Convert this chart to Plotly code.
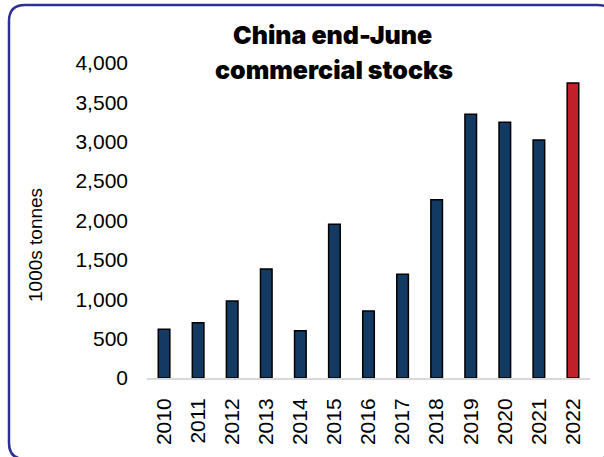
import plotly.graph_objects as go

years = ["2010", "2011", "2012", "2013", "2014", "2015", "2016", "2017",
         "2018", "2019", "2020", "2021", "2022"]
stocks = [618, 702, 978, 1384, 601, 1951, 851, 1317, 2264, 3348, 3247, 3022, 3746]
y_ticks = [0, 500, 1000, 1500, 2000, 2500, 3000, 3500, 4000]
y_tick_labels = ["0", "500", "1,000", "1,500", "2,000", "2,500", "3,000", "3,500", "4,000"]
title_lines = ["China end-June", "commercial stocks"]
y_title = "1000s tonnes"

NAVY = "#133A63"
RED = "#C1202B"
colors = [NAVY] * (len(years) - 1) + [RED]

W, H = 604, 457
ML, MR, MT, MB = 147, 14, 63, 79
PW, PH = W - ML - MR, H - MT - MB


def px(x):
    return (x - ML) / PW


def py(y):
    return (H - MB - y) / PH


fig = go.Figure(go.Bar(
    x=years, y=stocks,
    marker=dict(color=colors, line=dict(color="#000000", width=1.5)),
    width=0.34,
))

# rounded frame: right and bottom edges run off the canvas, only their corners peek in
L, T, R, B, r = 9, 5, 613, 459, 16
frame = (f"M {px(L)},{py(B - r)} "
         f"L {px(L)},{py(T + r)} "
         f"Q {px(L)},{py(T)} {px(L + r)},{py(T)} "
         f"L {px(R - r)},{py(T)} "
         f"Q {px(R - r / 2)},{py(T)} {px(R - r / 2 + 3)},{py(T + 3)}")
frame_bottom = (f"M {px(L)},{py(B - r)} "
                f"Q {px(L)},{py(B)} {px(L + r)},{py(B)} "
                f"L {px(R - r)},{py(B)} "
                f"Q {px(R - 8)},{py(B)} {px(R - 5)},{py(B - 4)}")

title_font = dict(family="Inter, Lato, Roboto, sans-serif", size=25,
                  weight=900, color="#000000")
frame_line = dict(color="#2E3192", width=2.5)

fig.update_layout(
    width=W, height=H,
    margin=dict(l=ML, r=MR, t=MT, b=MB),
    paper_bgcolor="white", plot_bgcolor="white",
    showlegend=False,
    font=dict(family="Liberation Sans, Arial, sans-serif", size=21, color="#000000"),
    xaxis=dict(
        type="category", tickangle=-90, showgrid=False, ticks="",
        showline=True, linecolor="#D9D9D9", linewidth=2,
        tickfont=dict(size=21), ticklabelstandoff=10,
    ),
    yaxis=dict(
        range=[0, 4000], tickvals=y_ticks, ticktext=y_tick_labels,
        showgrid=False, zeroline=False, ticks="", showline=False,
        tickfont=dict(size=21), ticklabelstandoff=18,
    ),
    shapes=[
        dict(type="path", xref="paper", yref="paper", path=frame,
             line=frame_line, fillcolor="rgba(0,0,0,0)", layer="above"),
        dict(type="path", xref="paper", yref="paper", path=frame_bottom,
             line=frame_line, fillcolor="rgba(0,0,0,0)", layer="above"),
    ],
    annotations=[
        dict(text=title_lines[0], xref="paper", yref="paper", x=px(332), y=py(35),
             xanchor="center", yanchor="middle", showarrow=False, font=title_font),
        dict(text=title_lines[1], xref="paper", yref="paper", x=px(334), y=py(70),
             xanchor="center", yanchor="middle", showarrow=False, font=title_font),
        dict(text=y_title, xref="paper", yref="paper", x=px(36), y=py(245),
             xanchor="center", yanchor="middle", textangle=-90, showarrow=False,
             font=dict(size=19, color="#000000")),
    ],
)

fig.write_html("out.html")
